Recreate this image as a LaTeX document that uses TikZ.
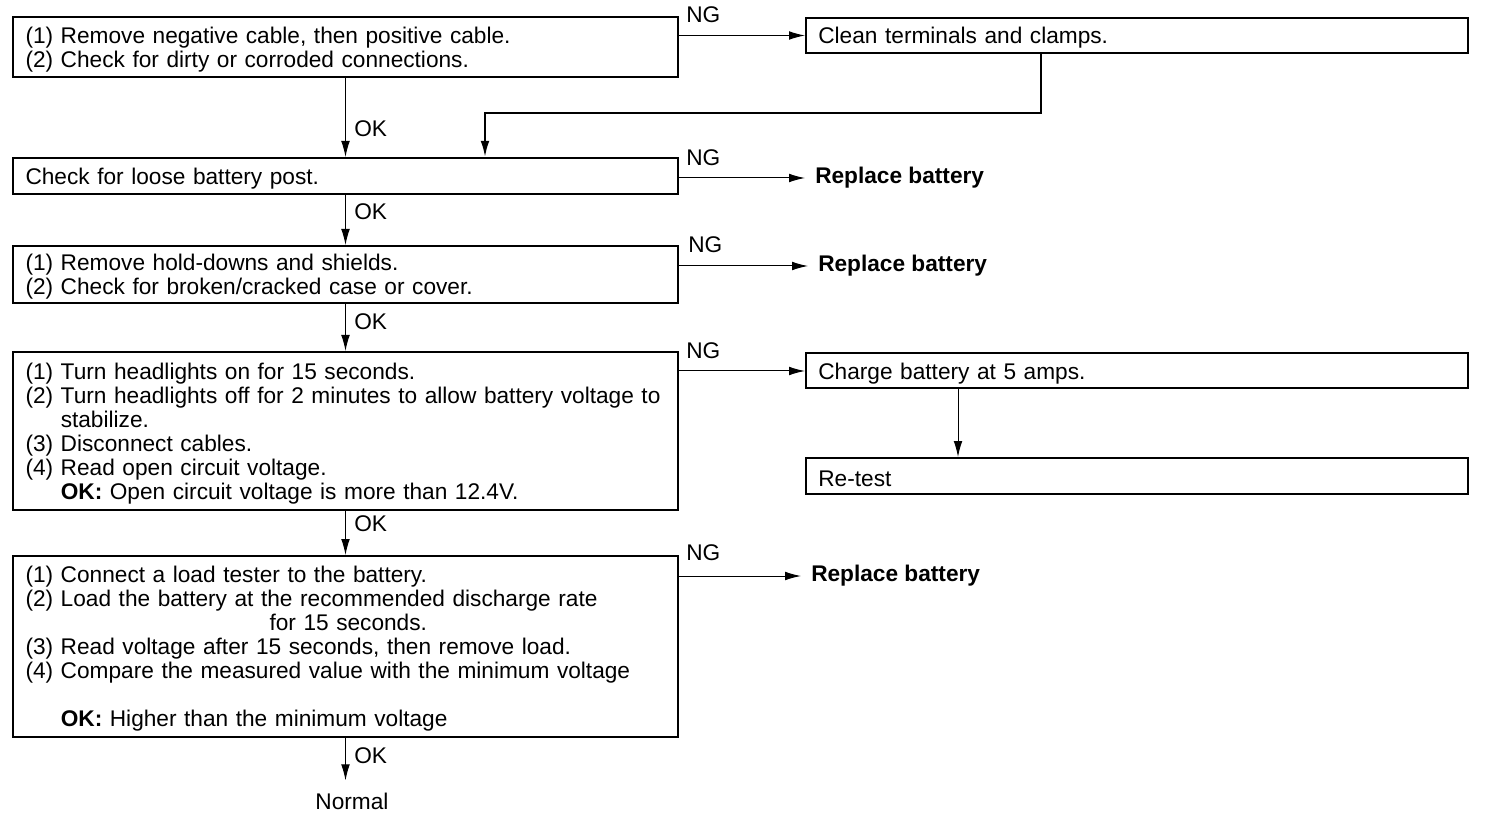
\documentclass[tikz,border=0pt]{standalone}
\usepackage{fontspec}
\setmainfont{Liberation Sans}
\usetikzlibrary{arrows.meta,calc}
\newcommand{\txtfont}{\fontsize{17}{18}\selectfont}
\newcommand{\topstrut}{\rule{0pt}{16pt}}
\begin{document}
\begin{tikzpicture}[x=0.75pt,y=-0.75pt,
  box/.style={draw, line width=1.5pt, align=left, inner xsep=9pt, inner ysep=0pt,
    text width=480pt, minimum width=498.75pt, font=\txtfont},
  sidebox/.style={draw, line width=1.5pt, align=left, inner xsep=9pt, inner ysep=0pt,
    text width=478pt, minimum width=496.5pt, font=\txtfont},
  lbl/.style={font=\txtfont, inner sep=0pt, anchor=west},
  res/.style={font=\txtfont\bfseries, inner xsep=7.5pt, inner ysep=0pt, anchor=west},
  arr/.style={-{Latex[length=12pt,width=6.5pt]}, line width=0.75pt},
]
\useasboundingbox (0,0) rectangle (1488,816);

% main column boxes
\node[box, minimum height=45pt] (b1) at (345.5,47)
  {\topstrut(1) Remove negative cable, then positive cable.\\
   (2) Check for dirty or corroded connections.};
\node[box, minimum height=27pt] (b2) at (345.5,176)
  {\topstrut Check for loose battery post.};
\node[box, minimum height=42.75pt] (b3) at (345.5,274.5)
  {\topstrut(1) Remove hold-downs and shields.\\
   (2) Check for broken/cracked case or cover.};
\node[box, minimum height=118.5pt] (b4) at (345.5,431)
  {\topstrut(1) Turn headlights on for 15 seconds.\\
   (2) Turn headlights off for 2 minutes to allow battery voltage to\\
   \phantom{(2) }stabilize.\\
   (3) Disconnect cables.\\
   (4) Read open circuit voltage.\\
   \phantom{(4) }\textbf{OK:} Open circuit voltage is more than 12.4V.};
\node[box, minimum height=135.75pt] (b5) at (345.5,646.5)
  {\topstrut(1) Connect a load tester to the battery.\\
   (2) Load the battery at the recommended discharge rate\\
   \hspace*{183pt}for 15 seconds.\\
   (3) Read voltage after 15 seconds, then remove load.\\
   (4) Compare the measured value with the minimum voltage\\
   \mbox{}\\
   \phantom{(4) }\textbf{OK:} Higher than the minimum voltage};
\node[font=\txtfont, inner xsep=0pt, inner ysep=9pt] (normal) at (352,801) {Normal};

% side boxes
\node[sidebox, minimum height=26.25pt] (clean) at (1137,35.5) {\topstrut Clean terminals and clamps.};
\node[sidebox, minimum height=26.25pt] (charge) at (1137,371) {\topstrut Charge battery at 5 amps.};
\node[sidebox, minimum height=27pt] (retest) at (1137,476) {\topstrut Re-test};

% results
\node[res] (rb1) at (805,178) {Replace battery};
\node[res] (rb2) at (808,266) {Replace battery};
\node[res] (rb3) at (801,576) {Replace battery};

% OK connectors
\draw[arr] (b1.south) -- (b2.north);
\draw[arr] (b2.south) -- (b3.north);
\draw[arr] (b3.south) -- (b4.north);
\draw[arr] (b4.south) -- (b5.north);
\draw[arr] (b5.south) -- (b5.south |- normal.north);
\node[lbl] (ok1) at (354,129) {OK};
\node[lbl] (ok2) at (354,212) {OK};
\node[lbl] (ok3) at (354,322) {OK};
\node[lbl] (ok4) at (354,524) {OK};
\node[lbl] (ok5) at (354,756) {OK};

% NG connectors
\draw[arr] (clean.west -| b1.east) -- (clean.west);
\draw[arr] (b2.east |- rb1.west) -- (rb1.west);
\draw[arr] (b3.east |- rb2.west) -- (rb2.west);
\draw[arr] (charge.west -| b4.east) -- (charge.west);
\draw[arr] (b5.east |- rb3.west) -- (rb3.west);
\node[lbl] (ng1) at (686,15) {NG};
\node[lbl] (ng2) at (686,158) {NG};
\node[lbl] (ng3) at (688,245) {NG};
\node[lbl] (ng4) at (686,351) {NG};
\node[lbl] (ng5) at (686,553) {NG};

% clean -> loose post loop
\coordinate (j1) at (1041,113);
\coordinate (j2) at (485,113);
\draw[arr, line width=1.5pt] (clean.south -| j1) -- (j1) -- (j2) -- (j2 |- b2.north);

% charge -> retest
\draw[arr] ([xshift=-134.25pt]charge.south) -- ([xshift=-134.25pt]retest.north);
\end{tikzpicture}
\end{document}
